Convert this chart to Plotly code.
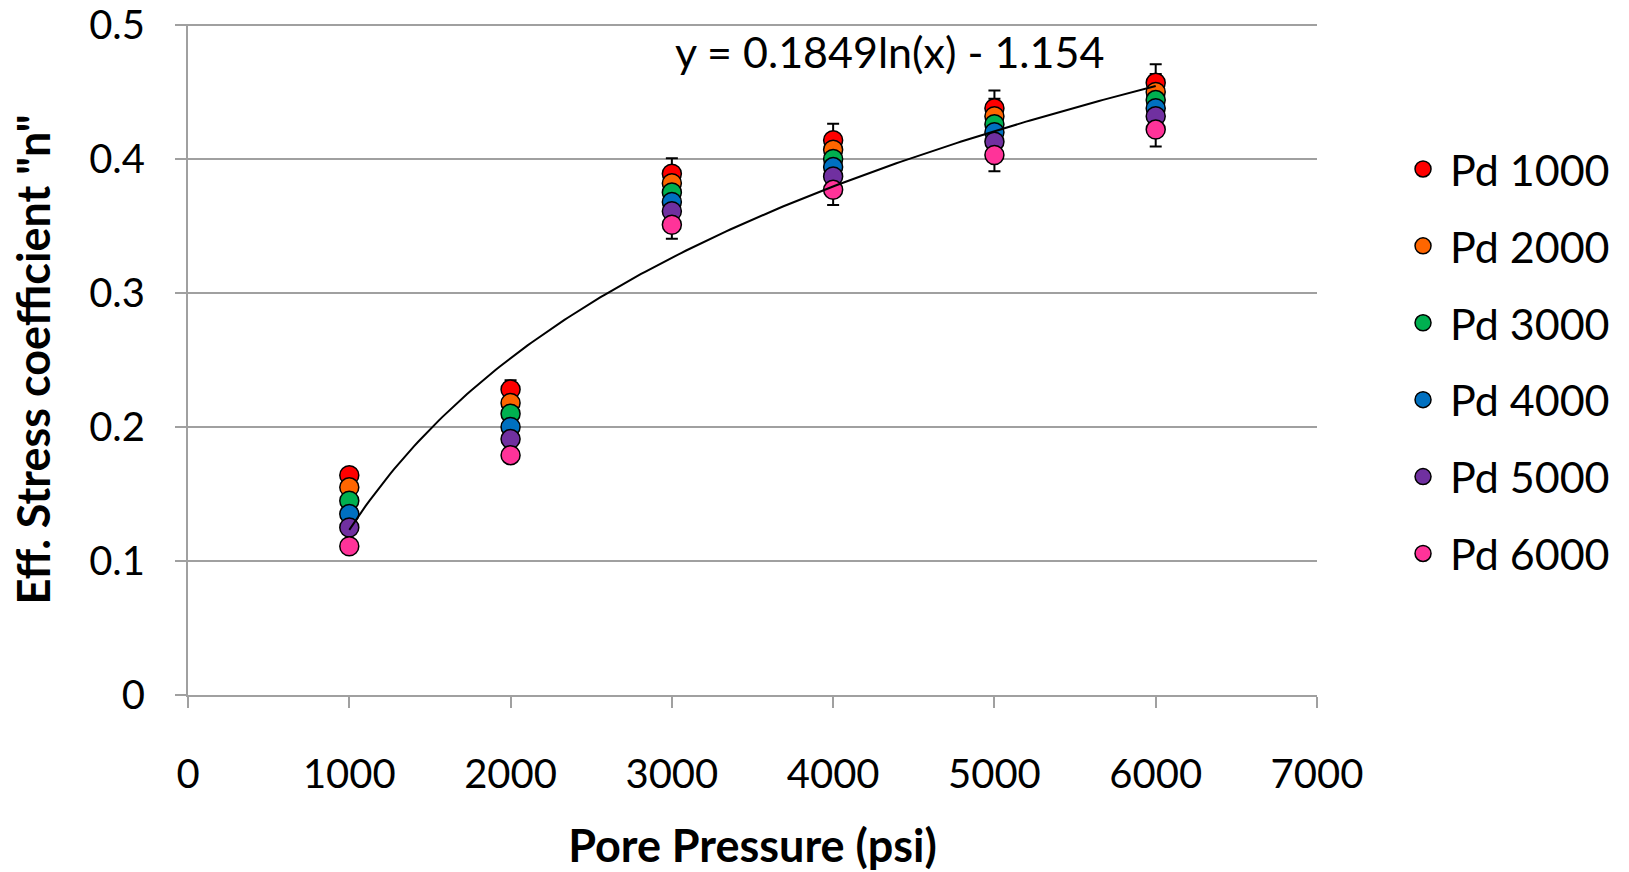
import plotly.graph_objects as go
import numpy as np

pore_pressure = [1000, 2000, 3000, 4000, 5000, 6000]
series_names = ["Pd 1000", "Pd 2000", "Pd 3000", "Pd 4000", "Pd 5000", "Pd 6000"]
colors = ["#FF0000", "#FF6600", "#00B050", "#0070C0", "#7030A0", "#FF3399"]
n_pd1000 = [0.164, 0.228, 0.389, 0.414, 0.438, 0.457]
n_pd2000 = [0.155, 0.218, 0.382, 0.407, 0.432, 0.450]
n_pd3000 = [0.145, 0.210, 0.375, 0.400, 0.426, 0.444]
n_pd4000 = [0.135, 0.200, 0.368, 0.394, 0.420, 0.438]
n_pd5000 = [0.125, 0.191, 0.361, 0.387, 0.413, 0.432]
n_pd6000 = [0.111, 0.179, 0.351, 0.377, 0.403, 0.422]
series_values = [n_pd1000, n_pd2000, n_pd3000, n_pd4000, n_pd5000, n_pd6000]
error_percent = 3
fit_a, fit_b = 0.1849, -1.154
x_ticks = [0, 1000, 2000, 3000, 4000, 5000, 6000, 7000]
y_ticks = [0, 0.1, 0.2, 0.3, 0.4, 0.5]

FONT = "Lato, 'Open Sans', sans-serif"
fig = go.Figure()

# error bars drawn beneath all markers
for name, vals in zip(series_names, series_values):
    fig.add_trace(go.Scatter(
        x=pore_pressure, y=vals, mode="markers",
        marker=dict(size=1, opacity=0),
        error_y=dict(type="percent", value=error_percent, color="black",
                     thickness=2, width=6),
        showlegend=False, hoverinfo="skip"))

for i, (name, vals, c) in enumerate(zip(series_names, series_values, colors)):
    fig.add_trace(go.Scatter(
        x=pore_pressure, y=vals, mode="markers", name=name,
        legendgroup=f"g{i}",
        marker=dict(size=19, color=c, line=dict(color="black", width=1.5))))

xf = np.linspace(1000, 6000, 200)
yf = fit_a * np.log(xf) + fit_b
fig.add_trace(go.Scatter(x=xf, y=yf, mode="lines", line=dict(color="black", width=2),
                         showlegend=False, hoverinfo="skip"))

fig.add_annotation(x=4352, y=0.4806, xref="x", yref="y",
                   text="y = 0.1849ln(x) - 1.154", showarrow=False,
                   font=dict(family=FONT, size=43, color="black"))

fig.update_layout(
    width=1629, height=872,
    margin=dict(l=188, r=312, t=24, b=177),
    paper_bgcolor="white", plot_bgcolor="white",
    font=dict(family=FONT, size=40, color="black"),
    legend=dict(x=1.07, xanchor="left", y=0.497, yanchor="middle",
                font=dict(family=FONT, size=43), tracegroupgap=18,
                itemsizing="trace", itemwidth=44, bgcolor="rgba(0,0,0,0)"),
    xaxis=dict(range=[0, 7000], tickvals=x_ticks, ticktext=[str(v) for v in x_ticks],
               showgrid=False, zeroline=False, showline=True, linecolor="#A0A0A0",
               linewidth=2, ticks="outside", ticklen=11, tickwidth=2, tickcolor="#A0A0A0",
               ticklabelstandoff=32, automargin=False,
               title=dict(text="<b>Pore Pressure (psi)</b>", font=dict(family=FONT, size=45),
                          standoff=41)),
    yaxis=dict(range=[0, 0.5008], tickvals=y_ticks, ticktext=["0", "0.1", "0.2", "0.3", "0.4", "0.5"],
               showgrid=True, gridcolor="#A0A0A0", gridwidth=2, zeroline=False,
               showline=True, linecolor="#A0A0A0", linewidth=2,
               ticks="outside", ticklen=11, tickwidth=2, tickcolor="#A0A0A0",
               ticklabelstandoff=22, automargin=False,
               title=dict(text="<b>Eff. Stress coefficient \"n\"</b>",
                          font=dict(family=FONT, size=45), standoff=24)),
)

fig.write_html("out.html")
